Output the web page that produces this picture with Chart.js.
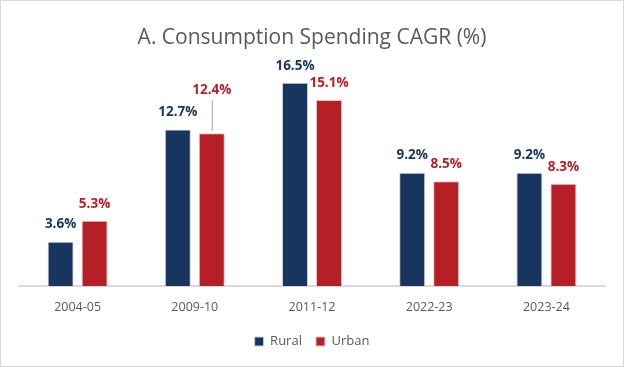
<!DOCTYPE html>
<html>
<head>
<meta charset="utf-8">
<script src="https://cdn.jsdelivr.net/npm/chart.js@4"></script>
<style>
  html, body { margin: 0; padding: 0; background: #fff; }
  #wrap { width: 624px; height: 367px; box-sizing: border-box; border: 1px solid #d9d9d9; }
</style>
</head>
<body>
<div id="wrap"><canvas id="chart" width="622" height="365"></canvas></div>
<script>
// Chart data
const periods = ['2004-05', '2009-10', '2011-12', '2022-23', '2023-24'];
const ruralValues = [3.6, 12.7, 16.5, 9.2, 9.2];
const urbanValues = [5.3, 12.4, 15.1, 8.5, 8.3];
const seriesNames = ['Rural', 'Urban'];

const navy = '#17355e';
const red = '#b71f27';
const grey = '#595959';

// Labels above the bars, with a leader line where the label was moved up
const barLabels = {
    id: 'barLabels',
    afterDatasetsDraw(chart, args, opts) {
        const ctx = chart.ctx;
        ctx.save();
        ctx.font = 'bold 13.5px "Open Sans", sans-serif';
        ctx.textAlign = 'center';
        ctx.textBaseline = 'middle';
        chart.data.datasets.forEach((ds, di) => {
            chart.getDatasetMeta(di).data.forEach((bar, i) => {
                const key = di + ':' + i;
                const lift = opts.lifted[key] || 0;
                const y = bar.y - 17 - lift;
                if (lift) {
                    ctx.strokeStyle = '#a6a6a6';
                    ctx.lineWidth = 1;
                    ctx.beginPath();
                    ctx.moveTo(bar.x + 0.5, y + 10);
                    ctx.lineTo(bar.x + 0.5, bar.y - 2);
                    ctx.stroke();
                }
                ctx.fillStyle = ds.backgroundColor;
                ctx.fillText(ds.data[i].toFixed(1) + '%', bar.x, y);
            });
        });
        ctx.restore();
    }
};

const ctx = document.getElementById('chart').getContext('2d');
const chart = new Chart(ctx, {
    type: 'bar',
    data: {
        labels: periods,
        datasets: [{
            label: seriesNames[0],
            data: ruralValues,
            backgroundColor: navy,
            borderColor: '#c8d0dc',
            borderWidth: 1
        }, {
            label: seriesNames[1],
            data: urbanValues,
            backgroundColor: red,
            borderColor: '#e3c3c5',
            borderWidth: 1
        }]
    },
    options: {
        responsive: false,
        animation: false,
        categoryPercentage: 0.58,
        barPercentage: 0.765,
        layout: { padding: { left: 18, right: 18, top: 0, bottom: 8 } },
        scales: {
            x: {
                grid: { display: false },
                border: { display: true, color: '#d9d9d9', width: 2 },
                ticks: { color: grey, font: { family: 'Open Sans', size: 12.5 }, padding: 6 }
            },
            y: {
                display: false,
                min: 0,
                max: 18
            }
        },
        plugins: {
            title: {
                display: true,
                text: 'A. Consumption Spending CAGR (%)',
                color: grey,
                font: { family: 'Open Sans', size: 21, weight: 'normal' },
                padding: { top: 24, bottom: 14 }
            },
            legend: {
                position: 'bottom',
                labels: {
                    color: grey,
                    font: { family: 'Open Sans', size: 13 },
                    boxWidth: 9,
                    boxHeight: 9,
                    padding: 14
                }
            },
            tooltip: { enabled: false },
            barLabels: { lifted: { '1:1': 26 } }
        }
    },
    plugins: [barLabels]
});
</script>
</body>
</html>
